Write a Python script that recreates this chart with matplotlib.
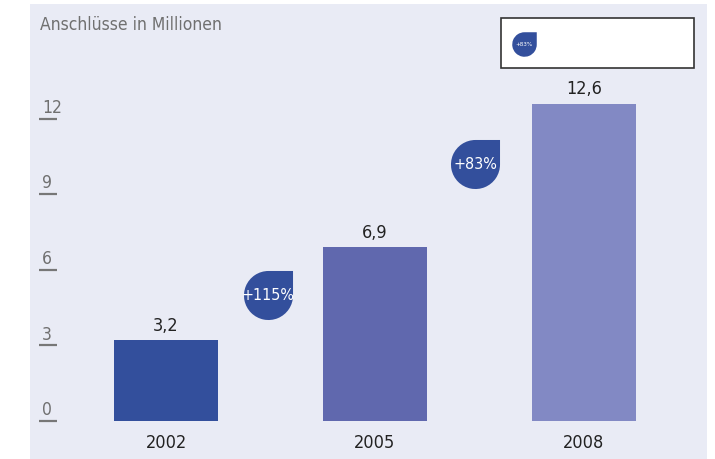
import matplotlib
matplotlib.use("Agg")
import matplotlib.pyplot as plt
from matplotlib.path import Path
from matplotlib.patches import Rectangle
import matplotlib.transforms as mtransforms
import numpy as np

# data
years = ["2002", "2005", "2008"]
connections = [3.2, 6.9, 12.6]
value_labels = ["3,2", "6,9", "12,6"]
growth_labels = ["+115%", "+83%"]
yticks = [0, 3, 6, 9, 12]

bar_colors = ["#334f9c", "#6068ae", "#8289c4"]
bubble_color = "#334f9c"
bg = "#e9ebf5"
gray = "#707070"

plt.rcParams["font.family"] = ["DejaVu Sans"]
plt.rcParams["font.stretch"] = "condensed"

# teardrop bubble: circle with square top-right corner
arc = Path.arc(90, 360)
verts = np.vstack([arc.vertices, [[1, 1], [0, 1]]])
codes = list(arc.codes) + [Path.LINETO, Path.CLOSEPOLY]
drop = Path(verts, codes)

fig = plt.figure(figsize=(7.15, 4.6), dpi=100)
ax = fig.add_axes([30 / 715, 0, 677 / 715, 455 / 460])
ax.set_facecolor(bg)
for s in ax.spines.values():
    s.set_visible(False)
ax.set_xticks([])
ax.set_yticks([])
ax.set_xlim(-0.651, 2.589)
ax.set_ylim(-1.51, 16.55)

x = np.arange(len(years))
ax.bar(x, connections, width=0.498, color=bar_colors, zorder=2)

for xi, v, lab in zip(x, connections, value_labels):
    ax.annotate(lab, (xi, v), xytext=(0, 4.5), textcoords="offset points",
                ha="center", va="bottom", fontsize=13, color="#222222")

for xi, yr in zip(x, years):
    ax.text(xi, -0.83, yr, ha="center", va="center", fontsize=13, color="#222222")

# y ticks: number with short underline
blend = mtransforms.blended_transform_factory(ax.transAxes, ax.transData)
for t in yticks:
    ax.plot([0.0133, 0.0399], [t, t], color="#777777", lw=1.6, transform=blend,
            solid_capstyle="butt")
    ax.annotate(str(t), (0.018, t), xycoords=blend, xytext=(0, 2),
                textcoords="offset points", ha="left", va="bottom",
                fontsize=12.5, color=gray)

ax.text(0.0148, 0.956, "Anschlüsse in Millionen", transform=ax.transAxes,
        ha="left", va="center", fontsize=12.5, color=gray)

# growth bubbles between the bars
bubble_x = [0.49, 1.48]
bubble_y = [5.0, 10.2]
ax.scatter(bubble_x, bubble_y, marker=drop, s=36 ** 2, color=bubble_color,
           linewidths=0, zorder=3)
for bx, by, g in zip(bubble_x, bubble_y, growth_labels):
    ax.text(bx, by, g, ha="center", va="center", fontsize=11.5, color="white",
            zorder=4)

# legend-like box
ax.add_patch(Rectangle((0.696, 0.859), 0.285, 0.110, transform=ax.transAxes,
                       facecolor="white", edgecolor="#333333", lw=1.2, zorder=5))
ax.scatter([0.729], [0.913], marker=drop, s=18 ** 2, color=bubble_color,
           linewidths=0, transform=ax.transAxes, zorder=6)
ax.text(0.729, 0.913, growth_labels[1], transform=ax.transAxes, ha="center",
        va="center", fontsize=4.5, color="white", zorder=7)

fig.savefig("out.png", dpi=100, facecolor="white")
